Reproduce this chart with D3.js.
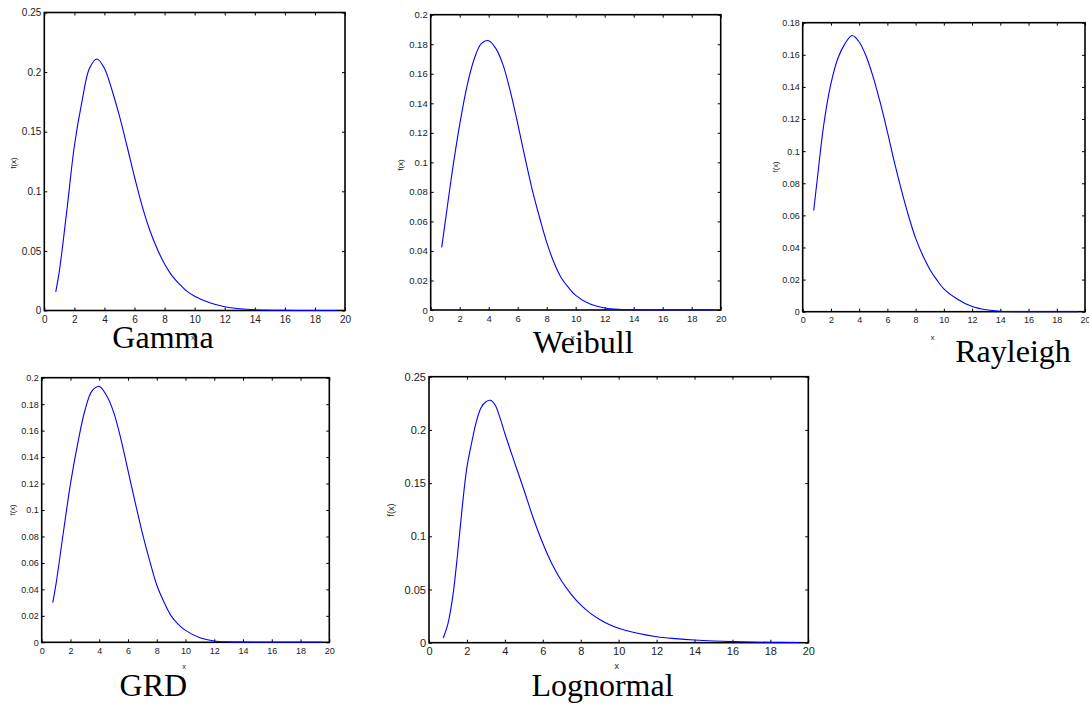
<!DOCTYPE html>
<html>
<head>
<meta charset="utf-8">
<script src="https://cdn.jsdelivr.net/npm/d3@7"></script>
<style>
body { margin: 0; background: #fff; }
svg { display: block; }
.title { font-family: 'Times New Roman', 'Liberation Serif', serif; font-size: 32px; fill: #000; }
.lab { font-family: Arial, 'Liberation Sans', sans-serif; fill: #222; }
</style>
</head>
<body>
<svg width="1089" height="706"></svg>
<script>
// x ticks shared by all five panels
const xTicks = [0, 2, 4, 6, 8, 10, 12, 14, 16, 18, 20];

// Gamma pdf
const gammaX = [0.76, 1, 1.5, 2, 2.5, 3, 3.5, 4, 4.5, 5, 5.5, 6, 6.5, 7, 7.5, 8, 8.5, 9, 9.5, 10, 11, 12, 13, 14, 16, 18, 19.5];
const gammaY = [0.0156, 0.033, 0.084, 0.138, 0.175, 0.203, 0.211, 0.203, 0.185, 0.163, 0.138, 0.112, 0.088, 0.068, 0.052, 0.039, 0.029, 0.022, 0.016, 0.012, 0.0065, 0.0032, 0.0015, 0.0006, 0.0001, 0, 0];
const gammaTicks = [0, 0.05, 0.1, 0.15, 0.2, 0.25];

// Weibull pdf
const weibullX = [0.76, 1, 1.5, 2, 2.5, 3, 3.5, 4, 4.5, 5, 5.5, 6, 6.5, 7, 7.5, 8, 8.5, 9, 9.5, 10, 11, 12, 13, 14, 16, 18, 19.5];
const weibullY = [0.0424, 0.0595, 0.0947, 0.1256, 0.1515, 0.170, 0.1806, 0.1824, 0.177, 0.1657, 0.1477, 0.1263, 0.1033, 0.0816, 0.063, 0.0458, 0.0322, 0.0219, 0.0153, 0.0099, 0.004, 0.0014, 0.0004, 0.0001, 0, 0, 0];
const weibullTicks = [0, 0.02, 0.04, 0.06, 0.08, 0.1, 0.12, 0.14, 0.16, 0.18, 0.2];

// Rayleigh pdf
const rayleighX = [0.78, 1, 1.5, 2, 2.5, 3, 3.5, 4, 4.5, 5, 5.5, 6, 6.5, 7, 7.5, 8, 8.5, 9, 9.5, 10, 11, 12, 13, 14, 16, 18, 19.5];
const rayleighY = [0.063, 0.080, 0.117, 0.142, 0.158, 0.167, 0.172, 0.168, 0.159, 0.146, 0.130, 0.112, 0.093, 0.0755, 0.0596, 0.0458, 0.0351, 0.0265, 0.0198, 0.0142, 0.0076, 0.0032, 0.0012, 0.0003, 0, 0, 0];
const rayleighTicks = [0, 0.02, 0.04, 0.06, 0.08, 0.1, 0.12, 0.14, 0.16, 0.18];

// GRD pdf
const grdX = [0.77, 1, 1.5, 2, 2.5, 3, 3.5, 4, 4.5, 5, 5.5, 6, 6.5, 7, 7.5, 8, 8.5, 9, 9.5, 10, 11, 12, 13, 14, 16, 18, 19.5];
const grdY = [0.030, 0.0443, 0.0826, 0.1197, 0.150, 0.175, 0.190, 0.1933, 0.1867, 0.174, 0.154, 0.130, 0.1058, 0.0826, 0.062, 0.0433, 0.0305, 0.020, 0.0136, 0.009, 0.0035, 0.001, 0.0003, 0.0001, 0, 0, 0];
const grdTicks = [0, 0.02, 0.04, 0.06, 0.08, 0.1, 0.12, 0.14, 0.16, 0.18, 0.2];

// Lognormal pdf
const lognormalX = [0.75, 1, 1.25, 1.5, 1.75, 2, 2.25, 2.5, 2.75, 3, 3.25, 3.5, 3.75, 4, 4.5, 5, 5.5, 6, 6.5, 7, 7.5, 8, 8.5, 9, 9.5, 10, 11, 12, 13, 14, 15, 16, 18, 19.5];
const lognormalY = [0.0044, 0.018, 0.043, 0.082, 0.127, 0.165, 0.188, 0.208, 0.221, 0.2265, 0.2278, 0.223, 0.211, 0.1966, 0.170, 0.144, 0.117, 0.0935, 0.0735, 0.0578, 0.0455, 0.0355, 0.0278, 0.0218, 0.0171, 0.0135, 0.0088, 0.0056, 0.0038, 0.0025, 0.0016, 0.001, 0.0004, 0.0002];
const lognormalTicks = [0, 0.05, 0.1, 0.15, 0.2, 0.25];

// Each panel is a separately scaled matlab figure, so boxes and fonts differ
const panels = [
    {name: 'Gamma', xs: gammaX, ys: gammaY, ticks: gammaTicks,
        box: [44.3, 12.5, 345, 310.5], font: 10, small: 8,
        fx: [13.5, 163], xl: [193, 337], title: [163, 348]},
    {name: 'Weibull', xs: weibullX, ys: weibullY, ticks: weibullTicks,
        box: [430.7, 14.7, 720.7, 310], font: 9.5, small: 8,
        fx: [400, 165], xl: [572.7, 337], title: [583.3, 353]},
    {name: 'Rayleigh', xs: rayleighX, ys: rayleighY, ticks: rayleighTicks,
        box: [802.7, 22.7, 1085, 311.7], font: 9, small: 7.5,
        fx: [775, 167], xl: [932.7, 337], title: [1013, 361.7]},
    {name: 'GRD', xs: grdX, ys: grdY, ticks: grdTicks,
        box: [41.7, 377.7, 329.3, 642.3], font: 9, small: 7.5,
        fx: [12.7, 510], xl: [184, 666.7], title: [153.3, 696]},
    {name: 'Lognormal', xs: lognormalX, ys: lognormalY, ticks: lognormalTicks,
        box: [429, 376.7, 808.3, 642.7], font: 11, small: 9,
        fx: [390.7, 510], xl: [616.7, 666], title: [602.5, 696]}
];

const svg = d3.select('svg');
const fmt = d3.format('~g');

panels.forEach(function(p)
{
    const [left, top, right, bottom] = p.box;
    const x = d3.scaleLinear().domain([0, 20]).range([left, right]);
    const y = d3.scaleLinear().domain([0, d3.max(p.ticks)]).range([bottom, top]);
    const g = svg.append('g');

    function styleAxis(sel)
    {
        sel.select('.domain').remove();
        sel.selectAll('.tick line').attr('stroke', '#000').attr('stroke-width', 1);
        sel.selectAll('.tick text')
            .attr('class', 'lab')
            .attr('font-size', p.font);
        sel.attr('font-family', null).attr('font-size', null);
    }

    g.append('g')
        .attr('transform', 'translate(0,' + bottom + ')')
        .call(d3.axisBottom(x).tickValues(xTicks).tickSize(-3).tickPadding(5).tickFormat(fmt))
        .call(styleAxis);
    g.append('g')
        .attr('transform', 'translate(0,' + top + ')')
        .call(d3.axisTop(x).tickValues(xTicks).tickSize(-3).tickFormat(''))
        .call(styleAxis);
    g.append('g')
        .attr('transform', 'translate(' + left + ',0)')
        .call(d3.axisLeft(y).tickValues(p.ticks).tickSize(-3).tickPadding(3).tickFormat(fmt))
        .call(styleAxis);
    g.append('g')
        .attr('transform', 'translate(' + right + ',0)')
        .call(d3.axisRight(y).tickValues(p.ticks).tickSize(-3).tickFormat(''))
        .call(styleAxis);

    // box round the plot
    g.append('rect')
        .attr('x', left).attr('y', top)
        .attr('width', right - left).attr('height', bottom - top)
        .attr('fill', 'none')
        .attr('stroke', '#000')
        .attr('stroke-width', 1.6);

    const line = d3.line()
        .x((d, i) => x(p.xs[i]))
        .y(d => y(Math.max(0, d)))
        .curve(d3.curveCatmullRom.alpha(0.5));

    g.append('path')
        .attr('d', line(p.ys))
        .attr('fill', 'none')
        .attr('stroke', '#0000ff')
        .attr('stroke-width', 1.1);

    g.append('text')
        .attr('class', 'lab')
        .attr('font-size', p.small)
        .attr('text-anchor', 'middle')
        .attr('transform', 'translate(' + p.fx[0] + ',' + p.fx[1] + ') rotate(-90)')
        .attr('dy', '0.35em')
        .text('f(x)');

    g.append('text')
        .attr('class', 'lab')
        .attr('font-size', p.small)
        .attr('text-anchor', 'middle')
        .attr('x', p.xl[0]).attr('y', p.xl[1])
        .attr('dy', '0.35em')
        .text('x');

    g.append('text')
        .attr('class', 'title')
        .attr('text-anchor', 'middle')
        .attr('x', p.title[0]).attr('y', p.title[1])
        .text(p.name);
});
</script>
</body>
</html>
